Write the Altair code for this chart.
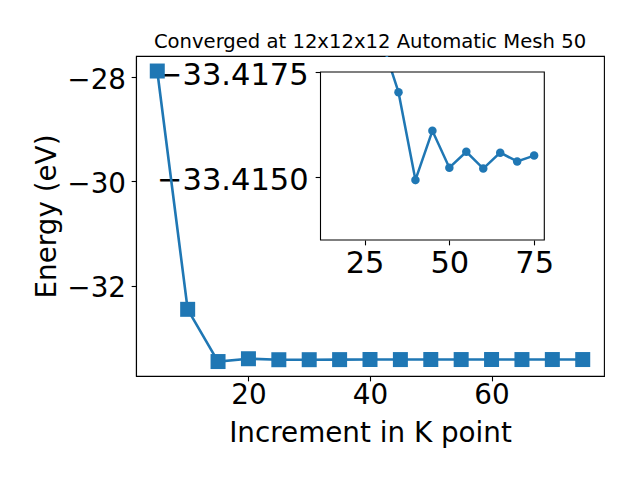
import altair as alt
import pandas as pd

# ---- data ----
kpoints = [5, 10, 15, 20, 25, 30, 35, 40, 45, 50, 55, 60, 65, 70, 75]
energies = [-27.885, -32.453, -33.454, -33.400, -33.4190, -33.41826, -33.41702,
            -33.41493, -33.41610, -33.41522, -33.41560, -33.41520, -33.41558,
            -33.41537, -33.41551]

main_x_domain = [1.5, 78.5]
main_y_domain = [-33.731, -27.597]
main_x_ticks = [20, 40, 60]
main_y_ticks = [-32, -30, -28]

inset_min_k = 30
inset_x_domain = [12, 78]
inset_y_domain = [-33.4175, -33.4135]
inset_x_ticks = [25, 50, 75]
inset_y_ticks = [-33.4175, -33.4150]
mask_y = [-33.41786, -33.4175]

title_text = "Converged at 12x12x12 Automatic Mesh 50"
x_title = "Increment in K point"
y_title = "Energy (eV)"

# ---- style ----
FONT = "DejaVu Sans"
BLUE = "#1f77b4"
W, H = 468, 320
INSET_RX = [184.5, 408.3]
INSET_RY = [16, 184]

df = pd.DataFrame({"k": kpoints, "E": energies})
inset_df = df[df["k"] >= inset_min_k]

common_axis = dict(grid=False, labelFont=FONT, labelColor="black", tickColor="black",
                   tickWidth=1.1, tickSize=4.86, domainColor="black", domainWidth=1.1,
                   labelOverlap=False, labelFlush=False)

main_x_axis = alt.Axis(values=main_x_ticks, format="d", title=x_title,
                       labelFontSize=27.8, labelBaseline="alphabetic", labelPadding=22.4,
                       titleFont=FONT, titleFontSize=27.8, titleFontWeight="normal",
                       titleColor="black", titleBaseline="alphabetic", titleAlign="center",
                       titleX=234, titleY=65, **common_axis)
main_y_axis = alt.Axis(values=main_y_ticks, format="d", title=y_title,
                       labelFontSize=27.8, labelBaseline="alphabetic", labelOffset=11,
                       labelPadding=5.6,
                       titleFont=FONT, titleFontSize=27.8, titleFontWeight="normal",
                       titleColor="black", titleBaseline="alphabetic", titleAlign="center",
                       titleAngle=270, titleX=-81, titleY=160, **common_axis)

inset_common = dict(common_axis)
inset_common["domain"] = False
inset_x_axis = alt.Axis(values=inset_x_ticks, format="d", title=None, orient="bottom",
                        offset=-136, labelFontSize=30.5, labelBaseline="alphabetic",
                        labelPadding=28.1, **inset_common)
inset_y_axis = alt.Axis(values=inset_y_ticks, format=".4f", title=None, orient="left",
                        offset=-184, labelFontSize=30.5, labelBaseline="alphabetic",
                        labelOffset=12, labelPadding=7, **inset_common)

mx = alt.X("k:Q", scale=alt.Scale(domain=main_x_domain, nice=False, zero=False), axis=main_x_axis)
my = alt.Y("E:Q", scale=alt.Scale(domain=main_y_domain, nice=False, zero=False), axis=main_y_axis)

main_line = alt.Chart(df).mark_line(color=BLUE, strokeWidth=2.6).encode(x=mx, y=my)
main_pts = alt.Chart(df).mark_point(shape="square", filled=True, size=225, color=BLUE,
                                    opacity=1).encode(x=mx, y=my)
main = alt.layer(main_line, main_pts)

ix = alt.X("k:Q", scale=alt.Scale(domain=inset_x_domain, range=INSET_RX, nice=False, zero=False),
           axis=inset_x_axis)
iy = alt.Y("E:Q", scale=alt.Scale(domain=inset_y_domain, range=INSET_RY, nice=False, zero=False),
           axis=inset_y_axis)

frame_df = pd.DataFrame({"k": [inset_x_domain[0]], "k2": [inset_x_domain[1]],
                         "E": [inset_y_domain[0]], "E2": [inset_y_domain[1]]})
mask_df = pd.DataFrame({"k": [inset_x_domain[0]], "k2": [inset_x_domain[1]],
                        "E": [mask_y[0]], "E2": [mask_y[1]]})

inset_line = alt.Chart(inset_df).mark_line(color=BLUE, strokeWidth=2.5, clip=True).encode(x=ix, y=iy)
inset_pts = alt.Chart(inset_df).mark_circle(size=72, color=BLUE, opacity=1, clip=True).encode(x=ix, y=iy)
mask = alt.Chart(mask_df).mark_rect(color="white", clip=True).encode(
    x=ix, x2="k2:Q", y=iy, y2="E2:Q")
frame = alt.Chart(frame_df).mark_rect(fillOpacity=0, stroke="black", strokeWidth=1.1).encode(
    x=ix, x2="k2:Q", y=iy, y2="E2:Q")
inset = alt.layer(inset_line, inset_pts, mask, frame)

chart = alt.layer(main, inset).resolve_scale(x="independent", y="independent").properties(
    width=W, height=H,
    title=alt.TitleParams(title_text, font=FONT, fontSize=19.6, fontWeight="normal",
                          color="black", anchor="middle", frame="group",
                          baseline="alphabetic", offset=-12),
    autosize=alt.AutoSizeParams(type="none"),
    padding={"left": 128, "top": 48, "right": 28, "bottom": 96},
).configure(background="white").configure_view(stroke="black", strokeWidth=1.1)

chart.save("out.html", embed_options={"renderer": "svg", "actions": False})
